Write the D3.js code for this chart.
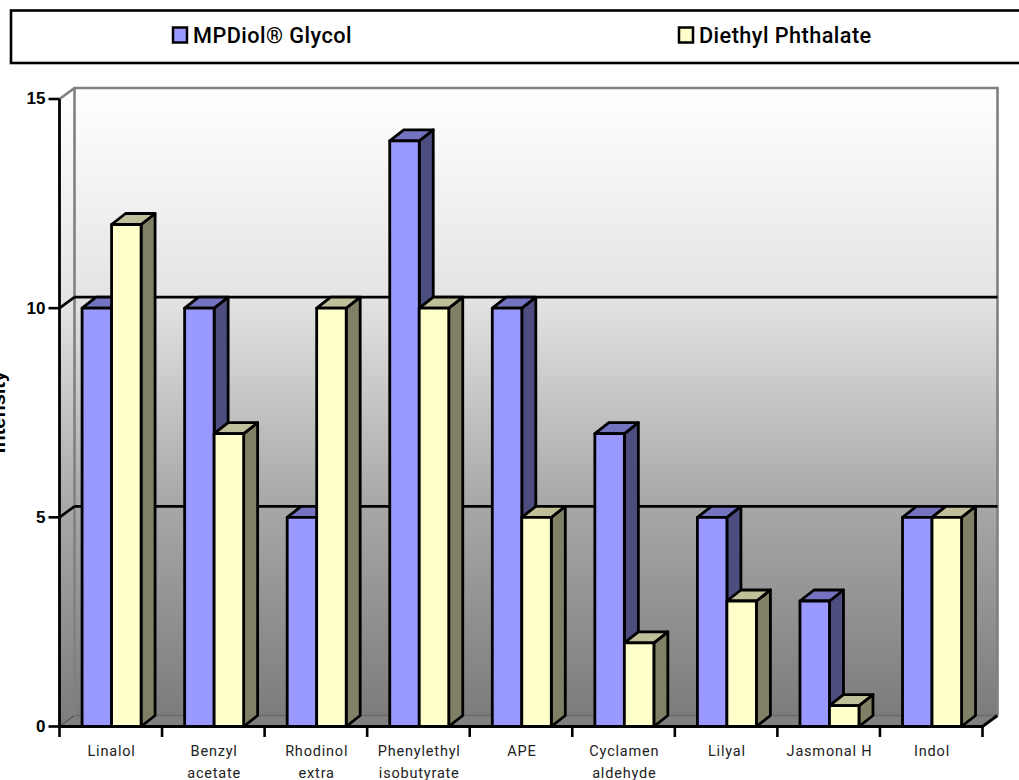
<!DOCTYPE html>
<html>
<head>
<meta charset="utf-8">
<script src="https://cdn.jsdelivr.net/npm/d3@7"></script>
<style>
  html, body { margin: 0; padding: 0; background: #fff; overflow: hidden; }
  svg { display: block; }
  .tick-y text { font: bold 17px "Liberation Sans", sans-serif; fill: #000; }
  .cat-label { font: 14.5px Roboto, sans-serif; fill: #222; letter-spacing: .8px; }
  .legend-label { font: 500 21.7px Roboto, sans-serif; fill: #000; letter-spacing: .45px; }
</style>
</head>
<body>
<div id="chart"></div>
<script>
const categories = ["Linalol", "Benzyl acetate", "Rhodinol extra", "Phenylethyl isobutyrate", "APE", "Cyclamen aldehyde", "Lilyal", "Jasmonal H", "Indol"];
const seriesNames = ["MPDiol® Glycol", "Diethyl Phthalate"];
const mpdiol = [10, 10, 5, 14, 10, 7, 5, 3, 5];
const diethyl = [12, 7, 10, 10, 5, 2, 3, 0.5, 5];
const yTicks = [0, 5, 10, 15];
const axisTitle = "Intensity";

const width = 1019, height = 780;
const plotLeft = 59.5, plotRight = 982.5, plotTop = 99, plotBottom = 726.5;
const depthX = 14, wallDepthX = 15, depthY = 11;
const barW = 29.5;

const svg = d3.select("#chart").append("svg")
  .attr("width", width)
  .attr("height", height);

const defs = svg.append("defs");
const wallGrad = defs.append("linearGradient")
  .attr("id", "wall-grad")
  .attr("x1", 0).attr("y1", 0).attr("x2", 0).attr("y2", 1);
wallGrad.append("stop").attr("offset", "0%").attr("stop-color", "#ffffff");
wallGrad.append("stop").attr("offset", "33%").attr("stop-color", "#e4e4e4");
wallGrad.append("stop").attr("offset", "66%").attr("stop-color", "#a8a8a8");
wallGrad.append("stop").attr("offset", "100%").attr("stop-color", "#7c7c7c");

// bars and labels sit a touch right of the tick marks
const xScale = d3.scaleBand()
  .domain(categories)
  .range([plotLeft + 0.8, plotRight + 0.8]);

const xTickScale = d3.scaleLinear()
  .domain([0, categories.length])
  .range([plotLeft, plotRight]);

const yScale = d3.scaleLinear()
  .domain([0, 15])
  .range([plotBottom, plotTop]);

// legend box
svg.append("rect")
  .attr("x", 11).attr("y", 10.5)
  .attr("width", width + 20).attr("height", 52.5)
  .attr("fill", "#fff")
  .attr("stroke", "#000")
  .attr("stroke-width", 2.6);

const legendX = [172, 678];
const seriesFill = ["#9999ff", "#ffffcc"];
const sideFill = ["#4d4d80", "#808066"];
const topFill = ["#7373bf", "#bfbf99"];

seriesNames.forEach((name, i) => {
  svg.append("rect")
    .attr("x", legendX[i] + 1).attr("y", 27.5)
    .attr("width", 14).attr("height", 15)
    .attr("fill", seriesFill[i])
    .attr("stroke", "#000")
    .attr("stroke-width", 2.5);
  svg.append("text")
    .attr("class", "legend-label")
    .attr("x", legendX[i] + 21)
    .attr("y", 43)
    .text(name);
});

// walls and floor
const backLeft = plotLeft + wallDepthX, backRight = plotRight + wallDepthX;
const backTop = plotTop - depthY, backBottom = plotBottom - depthY;

svg.append("polygon")
  .attr("points", [[plotLeft, plotTop], [backLeft, backTop], [backLeft, backBottom], [plotLeft, plotBottom]].join(" "))
  .attr("fill", "url(#wall-grad)");

svg.append("rect")
  .attr("x", backLeft).attr("y", backTop)
  .attr("width", backRight - backLeft)
  .attr("height", backBottom - backTop)
  .attr("fill", "url(#wall-grad)");

svg.append("polygon")
  .attr("points", [[plotLeft, plotBottom], [backLeft, backBottom], [backRight, backBottom], [plotRight, plotBottom]].join(" "))
  .attr("fill", "#808080");

svg.append("line")
  .attr("x1", backLeft).attr("x2", backRight)
  .attr("y1", backBottom).attr("y2", backBottom)
  .attr("stroke", "#6a6a6a").attr("stroke-width", 1.5);
svg.append("line")
  .attr("x1", plotLeft).attr("x2", backLeft)
  .attr("y1", plotBottom).attr("y2", backBottom)
  .attr("stroke", "#555").attr("stroke-width", 1.2);

// grey frame of the back wall
svg.append("path")
  .attr("d", d3.line()([[backLeft, backBottom], [backLeft, backTop], [backRight, backTop], [backRight, backBottom]]))
  .attr("fill", "none")
  .attr("stroke", "#808080")
  .attr("stroke-width", 2.6);

// gridlines on the back wall and side wall
yTicks.filter(d => d > 0).forEach(d => {
  if (d < 15) {
    svg.append("line")
      .attr("x1", backLeft).attr("x2", backRight)
      .attr("y1", yScale(d) - depthY).attr("y2", yScale(d) - depthY)
      .attr("stroke", "#000").attr("stroke-width", 2.6);
  }
  svg.append("line")
    .attr("x1", plotLeft).attr("x2", backLeft)
    .attr("y1", yScale(d)).attr("y2", yScale(d) - depthY)
    .attr("stroke", d < 15 ? "#000" : "#808080").attr("stroke-width", 2.6);
});

// bars
function drawBar(cat, value, s) {
  const x0 = xScale(cat) + xScale.bandwidth() / 2 - barW + s * barW;
  const x1 = x0 + barW;
  const y0 = yScale(value), y1 = yScale(0);
  const g = svg.append("g")
    .attr("class", "bar")
    .attr("stroke", "#000")
    .attr("stroke-width", 2.8)
    .attr("stroke-linejoin", "round");
  g.append("polygon")
    .attr("points", [[x1, y0], [x1 + depthX, y0 - depthY], [x1 + depthX, y1 - depthY], [x1, y1]].join(" "))
    .attr("fill", sideFill[s]);
  g.append("polygon")
    .attr("points", [[x0, y0], [x0 + depthX, y0 - depthY], [x1 + depthX, y0 - depthY], [x1, y0]].join(" "))
    .attr("fill", topFill[s]);
  g.append("rect")
    .attr("x", x0).attr("y", y0)
    .attr("width", barW).attr("height", y1 - y0)
    .attr("fill", seriesFill[s]);
}

categories.forEach((cat, i) => {
  drawBar(cat, mpdiol[i], 0);
  drawBar(cat, diethyl[i], 1);
});

// axes
const yAxis = d3.axisLeft(yScale)
  .tickValues(yTicks)
  .tickSize(11)
  .tickPadding(3)
  .offset(0)
  .tickFormat(d3.format("d"));

const yG = svg.append("g")
  .attr("class", "tick-y")
  .attr("transform", `translate(${plotLeft}, 0)`)
  .call(yAxis);
yG.selectAll("line").attr("stroke", "#000").attr("stroke-width", 2.6);
yG.select(".domain").attr("stroke", "#000").attr("stroke-width", 2.8).attr("d", `M0,${plotTop}V${plotBottom}`);

const xAxis = d3.axisBottom(xTickScale)
  .tickValues(d3.range(categories.length + 1))
  .tickSize(10.5)
  .offset(0)
  .tickFormat("");

const xG = svg.append("g")
  .attr("transform", `translate(0, ${plotBottom})`)
  .call(xAxis);
xG.selectAll("line").attr("stroke", "#000").attr("stroke-width", 2.6);
xG.select(".domain").attr("stroke", "#000").attr("stroke-width", 2.8).attr("d", `M${plotLeft},0H${plotRight}L${backRight},${-depthY}`).attr("fill", "none");

// the "Jasmonal H" label stays on one line, the others wrap at the space
categories.forEach(cat => {
  const lines = cat === "Jasmonal H" ? [cat] : cat.split(" ");
  const t = svg.append("text")
    .attr("class", "cat-label")
    .attr("text-anchor", "middle");
  lines.forEach((line, j) => {
    t.append("tspan")
      .attr("x", xScale(cat) + xScale.bandwidth() / 2)
      .attr("y", 756 + j * 22)
      .text(line);
  });
});

svg.append("text")
  .attr("transform", "translate(5, 412) rotate(-90)")
  .attr("text-anchor", "middle")
  .style("font", "bold 20px 'Liberation Sans', sans-serif")
  .text(axisTitle);
</script>
</body>
</html>
